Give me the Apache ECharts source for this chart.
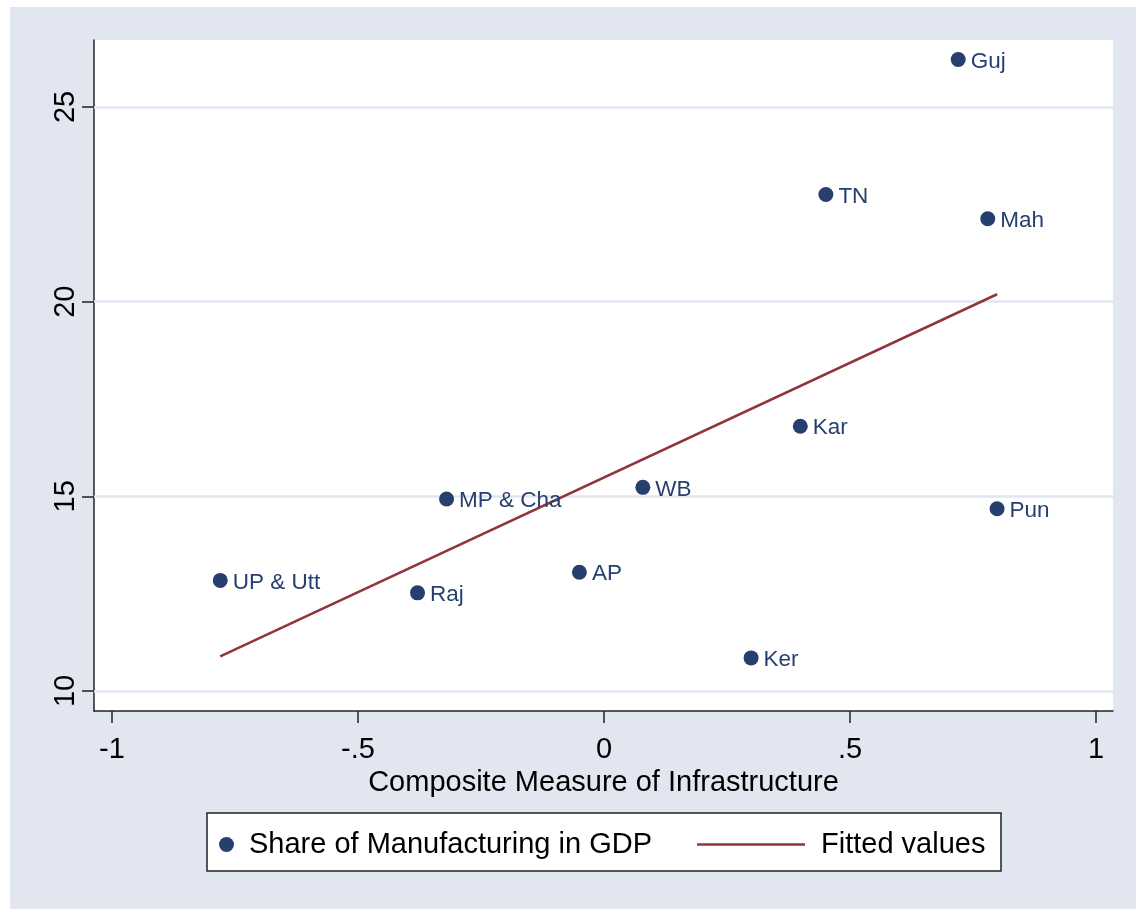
<!DOCTYPE html>
<html>
<head>
<meta charset="utf-8">
<script src="https://cdn.jsdelivr.net/npm/echarts@6/dist/echarts.min.js"></script>
<style>
  html, body { margin: 0; padding: 0; background: #fff; }
  #main { position: absolute; left: 10px; top: 7px; width: 1126px; height: 902px; }
</style>
</head>
<body>
<div id="main"></div>
<script>
// 各邦数据：基础设施综合指标 与 制造业占GDP比重
var states = ['Guj', 'TN', 'Mah', 'Kar', 'WB', 'Pun', 'MP & Cha', 'AP', 'Raj', 'UP & Utt', 'Ker'];
var infraX = [0.72, 0.451, 0.78, 0.399, 0.079, 0.799, -0.32, -0.05, -0.379, -0.78, 0.299];
var manufY = [26.22, 22.75, 22.13, 16.80, 15.23, 14.68, 14.93, 13.05, 12.52, 12.84, 10.85];

// 拟合线两端
var fitX = [-0.78, 0.799];
var fitY = [10.89, 20.19];

// 刻度
var xTicks = [-1, -0.5, 0, 0.5, 1];
var yTicks = [10, 15, 20, 25];

var navy = '#263F6E';
var maroon = '#90353B';
var bg = '#E1E6F0';
var font = 'Liberation Sans, Arial, sans-serif';

var scatterData = states.map(function (s, i) {
  return { name: s, value: [infraX[i], manufY[i]] };
});
var fitData = fitX.map(function (x, i) { return [x, fitY[i]]; });

var chart = echarts.init(document.getElementById('main'));
var option = {
  animation: false,
  backgroundColor: bg,
  textStyle: { fontFamily: font },
  grid: {
    left: 84, top: 33, right: 23, bottom: 198,
    show: true, backgroundColor: '#fff', borderWidth: 0
  },
  graphic: [{
    type: 'rect',
    shape: { x: 197, y: 806, width: 794, height: 58 },
    style: { fill: '#fff', stroke: '#222', lineWidth: 1.5 },
    z: 0
  }],
  legend: [{
    data: [{ name: 'Share of Manufacturing in GDP', icon: 'circle' }],
    left: 209, top: 823, padding: 0,
    itemWidth: 15, itemHeight: 15,
    textStyle: { fontSize: 29, color: '#000', fontFamily: font, padding: [0, 0, 0, 10] },
    z: 5
  }, {
    data: [{ name: 'Fitted values', icon: 'rect' }],
    left: 687, top: 823, padding: 0,
    itemWidth: 108, itemHeight: 2.5,
    textStyle: { fontSize: 29, color: '#000', fontFamily: font, padding: [0, 0, 0, 11] },
    z: 5
  }],
  xAxis: {
    type: 'value',
    min: -1.0366, max: 1.0346,
    name: 'Composite Measure of Infrastructure',
    nameLocation: 'middle', nameGap: 51,
    nameTextStyle: { fontSize: 29, color: '#000', fontFamily: font },
    axisLine: { show: true, onZero: false, lineStyle: { color: '#222', width: 1.5 } },
    axisTick: { show: true, length: 12, customValues: xTicks, lineStyle: { color: '#222', width: 1.5 } },
    axisLabel: {
      customValues: xTicks, margin: 24, fontSize: 29, color: '#000', fontFamily: font,
      formatter: function (v) { return v === 0 ? '0' : String(v).replace('0.', '.'); }
    },
    splitLine: { show: false }
  },
  yAxis: {
    type: 'value',
    min: 9.486, max: 26.72,
    axisLine: { show: true, onZero: false, lineStyle: { color: '#222', width: 1.5 } },
    axisTick: { show: true, length: 12, customValues: yTicks, lineStyle: { color: '#222', width: 1.5 } },
    axisLabel: { customValues: yTicks, rotate: 90, margin: 14, fontSize: 29, color: '#000', fontFamily: font },
    splitLine: { show: false }
  },
  series: [
    {
      // 网格线
      name: 'grid',
      type: 'line',
      data: [],
      z: 1,
      markLine: {
        silent: true,
        z: 1,
        symbol: 'none',
        label: { show: false },
        lineStyle: { color: bg, width: 2.5, type: 'solid' },
        data: yTicks.map(function (v) { return { yAxis: v }; })
      }
    },
    {
      name: 'Fitted values',
      type: 'line',
      data: fitData,
      symbol: 'none',
      z: 3,
      lineStyle: { color: maroon, width: 2.5 },
      itemStyle: { color: maroon }
    },
    {
      name: 'Share of Manufacturing in GDP',
      type: 'scatter',
      data: scatterData,
      symbolSize: 15,
      z: 4,
      itemStyle: { color: navy, opacity: 1 },
      label: {
        show: true, position: 'right', distance: 5, offset: [0, 2],
        formatter: '{b}', color: navy, fontSize: 22.5, fontFamily: font
      }
    }
  ]
};
chart.setOption(option);

window.addEventListener('resize', function () {
  chart.resize();
});
</script>
</body>
</html>
